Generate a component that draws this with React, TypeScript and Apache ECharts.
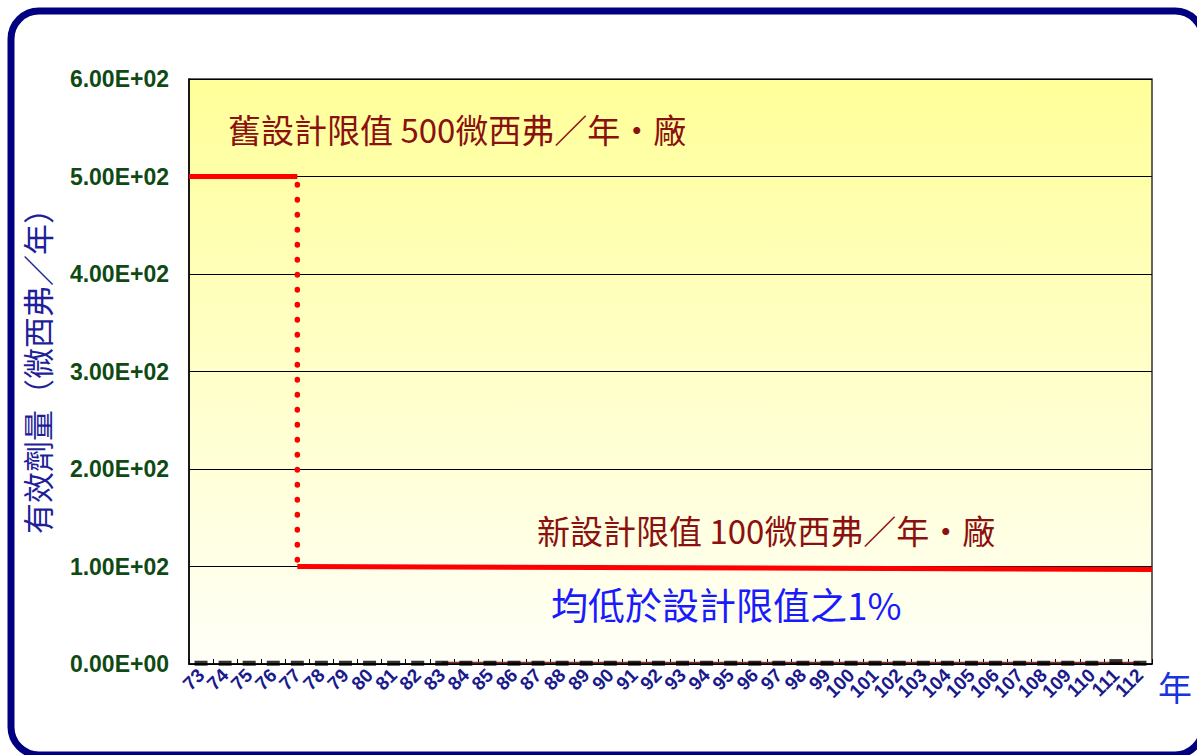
import React, { useEffect, useRef } from "react";
import * as echarts from "echarts";

const categories = [
  "73", "74", "75", "76", "77", "78", "79", "80", "81", "82",
  "83", "84", "85", "86", "87", "88", "89", "90", "91", "92",
  "93", "94", "95", "96", "97", "98", "99", "100", "101", "102",
  "103", "104", "105", "106", "107", "108", "109", "110", "111", "112",
];

// measured effective dose (black dashes, near zero)
const measuredDose = [
  0.8, 0.8, 0.8, 0.8, 0.8, 0.8, 0.8, 0.8, 0.8, 0.8,
  0.8, 0.8, 0.8, 0.8, 0.8, 0.8, 0.8, 0.8, 0.8, 0.8,
  0.8, 0.8, 0.8, 0.8, 0.8, 0.8, 0.8, 0.8, 0.8, 0.8,
  0.8, 0.8, 0.8, 0.8, 0.8, 0.8, 0.8, 0.8, 2.5, 0.8,
];

// thin brown trace near zero from 83 onward
const secondDose = [
  null, null, null, null, null, null, null, null, null, null,
  1.5, 1.5, 1.5, 1.5, 1.5, 1.5, 1.5, 1.5, 1.5, 1.5,
  1.5, 1.5, 1.5, 1.5, 1.5, 1.5, 1.5, 1.5, 1.5, 1.5,
  1.5, 1.5, 1.5, 1.5, 1.5, 1.5, 1.5, 1.5, 1.5, 1.5,
];

// design limit lines, x in category-width units (0 = left edge, 40 = right edge)
const oldLimit = [[0, 500], [4.5, 500]];
const limitDrop = [[4.5, 500], [4.5, 100]];
const newLimit = [[4.5, 100], [40, 97]];

const yTickLabels = ["0.00E+00", "1.00E+02", "2.00E+02", "3.00E+02", "4.00E+02", "5.00E+02", "6.00E+02"];

const oldLabel = "舊設計限值 500微西弗／年・廠";
const newLabel = "新設計限值 100微西弗／年・廠";
const noteLabel = "均低於設計限值之1%";
const yName = "有效劑量（微西弗／年）";
const xName = "年";

export default function App() {
  const ref = useRef<HTMLDivElement>(null);
  useEffect(() => {
    if (!ref.current) return;
    const chart = echarts.init(ref.current, null, { renderer: "svg" });
    const cjk = '"Noto Sans CJK TC", "Noto Sans CJK SC", sans-serif';
    chart.setOption({
      animation: false,
      backgroundColor: "#ffffff",
      grid: {
        left: 189,
        right: 45,
        top: 79,
        bottom: 91,
        show: true,
        borderColor: "#333333",
        borderWidth: 1.5,
        backgroundColor: new echarts.graphic.LinearGradient(0, 0, 0, 1, [
          { offset: 0, color: "#FFFF99" },
          { offset: 1, color: "#FFFFF8" },
        ]),
      },
      xAxis: [
        {
          type: "category",
          data: categories,
          boundaryGap: true,
          axisLine: { lineStyle: { color: "#000", width: 1.5 } },
          axisTick: { show: true, inside: true, length: 5, lineStyle: { color: "#000" } },
          axisLabel: {
            interval: 0,
            rotate: 45,
            color: "#1a1a8c",
            fontWeight: "bold",
            fontSize: 19,
            fontFamily: '"Liberation Sans", Arial, sans-serif',
            margin: 8,
          },
          splitLine: { show: false },
        },
        { type: "value", min: 0, max: 40, show: false },
      ],
      yAxis: {
        type: "value",
        min: 0,
        max: 600,
        interval: 100,
        name: yName,
        nameLocation: "middle",
        nameRotate: 90,
        nameGap: 137,
        nameTextStyle: { color: "#1f1f9a", fontSize: 31, fontFamily: cjk, padding: [0, 0, 0, 16] },
        axisLine: { show: true, lineStyle: { color: "#000", width: 1.5 } },
        axisTick: { show: false },
        axisLabel: {
          color: "#0f4a14",
          fontWeight: "bold",
          fontSize: 23,
          fontFamily: '"Liberation Sans", Arial, sans-serif',
          margin: 20,
          formatter: (v: number) => yTickLabels[Math.round(v / 100)] ?? "",
        },
        splitLine: { show: true, lineStyle: { color: "#000", width: 1 } },
      },
      series: [
        {
          type: "line",
          data: secondDose,
          symbol: "none",
          lineStyle: { color: "#8b2e2e", width: 1.5 },
          z: 3,
        },
        {
          type: "scatter",
          data: measuredDose,
          symbol: "rect",
          symbolSize: [13, 5],
          itemStyle: { color: "#000" },
          z: 4,
        },
        {
          type: "line",
          xAxisIndex: 1,
          data: oldLimit,
          symbol: "none",
          lineStyle: { color: "#FF0000", width: 5 },
          z: 5,
        },
        {
          type: "line",
          xAxisIndex: 1,
          data: limitDrop,
          symbol: "none",
          lineStyle: { color: "#FF0000", width: 5.5, type: [0.5, 14.5], cap: "round", dashOffset: -8 },
          z: 5,
        },
        {
          type: "line",
          xAxisIndex: 1,
          data: newLimit,
          symbol: "none",
          lineStyle: { color: "#FF0000", width: 5 },
          z: 5,
        },
      ],
      graphic: [
        {
          type: "rect",
          shape: { x: 11, y: 11, width: 1192, height: 744, r: 28 },
          style: { fill: "none", stroke: "#000080", lineWidth: 7 },
          z: 100,
        },
        {
          type: "text",
          x: 228,
          y: 129,
          style: { text: oldLabel, fill: "#8b1010", font: `33px ${cjk}`, textVerticalAlign: "middle" },
          z: 50,
        },
        {
          type: "text",
          x: 537,
          y: 530,
          style: { text: newLabel, fill: "#8b1010", font: `33px ${cjk}`, textVerticalAlign: "middle" },
          z: 50,
        },
        {
          type: "text",
          x: 551,
          y: 604,
          style: { text: noteLabel, fill: "#1a1aff", font: `37px ${cjk}`, textVerticalAlign: "middle" },
          z: 50,
        },
        {
          type: "text",
          x: 1158,
          y: 686,
          style: { text: xName, fill: "#1a33dd", font: `34px ${cjk}`, textVerticalAlign: "middle" },
          z: 50,
        },
      ],
    });
    return () => chart.dispose();
  }, []);
  return (
    <div
      ref={ref}
      style={{ position: "fixed", left: 0, top: 0, width: 1197, height: 755 }}
    />
  );
}
